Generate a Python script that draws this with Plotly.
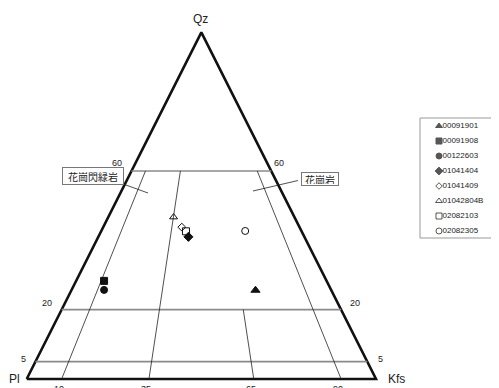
import plotly.graph_objects as go

# ---- data (percent) ----
samples = ["00091901", "00091908", "00122603", "01041404", "01041409", "01042804B", "02082103", "02082305"]
qz  = [25.6, 28.3, 25.7, 41.0, 43.8, 46.7, 42.6, 42.7]
pl  = [21.7, 63.7, 65.0, 33.2, 33.7, 34.6, 33.1, 16.1]
kfs = [52.7,  8.0,  9.3, 25.8, 22.5, 18.7, 24.3, 41.2]
symbols = ["triangle-up", "square", "circle", "diamond", "diamond-open",
           "triangle-up-open", "square-open", "circle-open"]

qz_levels = [60, 20, 5]                     # horizontal Qz lines
ratio_lines = [10, 35, 65, 90]              # Kfs/(Kfs+Pl) ratio lines
ratio_top = [60, 60, 20, 60]                # Qz where each ratio line stops
vertex_labels = ["Qz", "Pl", "Kfs"]
field_labels = ["花崗閃緑岩", "花崗岩"]

# page has an 8px body margin -> figure is 491x380, reference pixel coords minus 8
OFF = 8
W, H = 499 - OFF, 388 - OFF


def px(x):
    return (x - OFF) / W


def py(y):
    return 1 - (y - OFF) / H


def tern(q, k):
    """ternary (fractions of Qz, Kfs) -> cartesian"""
    return k + q / 2.0, q


fig = go.Figure()

# triangle outline
tx, ty = [], []
for q, k in [(0, 0), (0, 1), (1, 0), (0, 0)]:
    x, y = tern(q, k)
    tx.append(x); ty.append(y)
fig.add_trace(go.Scatter(x=tx, y=ty, mode="lines", line=dict(color="#111", width=2.6),
                         hoverinfo="skip", showlegend=False))

# horizontal Qz lines (gray)
for lv in qz_levels:
    q = lv / 100
    x0, y0 = tern(q, 0)
    x1, y1 = tern(q, 1 - q)
    fig.add_trace(go.Scatter(x=[x0, x1], y=[y0, y1], mode="lines",
                             line=dict(color="#8a8a8a", width=1.6),
                             hoverinfo="skip", showlegend=False))

# ratio lines
for r, top in zip(ratio_lines, ratio_top):
    rr = r / 100
    qt = top / 100
    x0, y0 = tern(0, rr)
    x1, y1 = tern(qt, (1 - qt) * rr)
    fig.add_trace(go.Scatter(x=[x0, x1], y=[y0, y1], mode="lines",
                             line=dict(color="#222", width=0.8),
                             hoverinfo="skip", showlegend=False))

# data points
sizes = [8, 7, 7, 7, 6, 7, 7, 7]
for name, q, p, k, s, sz in zip(samples, qz, pl, kfs, symbols, sizes):
    total = q + k + p
    x, y = tern(q / total, k / total)
    fig.add_trace(go.Scatter(x=[x], y=[y], mode="markers", name=name,
                             marker=dict(symbol=s, size=sz, color="#111",
                                         line=dict(color="#111", width=1)),
                             showlegend=False))

annotations = []
font_num = dict(family="Liberation Sans, Arial", size=9, color="#222")

# side tick labels (shift of label centre from line end, in px)
left_shift = {60: (-14.5, 8), 20: (-14.6, 6.7), 5: (-12.4, 2.7)}
right_shift = {60: (7.8, 8), 20: (13.9, 6.7), 5: (13.7, 2.7)}
for lv in qz_levels:
    q = lv / 100
    x0, y0 = tern(q, 0)
    x1, y1 = tern(q, 1 - q)
    dx, dy = left_shift[lv]
    annotations.append(dict(x=x0, y=y0, xref="x", yref="y", text=str(lv), showarrow=False,
                            xanchor="center", yanchor="middle", xshift=dx, yshift=dy, font=font_num))
    dx, dy = right_shift[lv]
    annotations.append(dict(x=x1, y=y1, xref="x", yref="y", text=str(lv), showarrow=False,
                            xanchor="center", yanchor="middle", xshift=dx, yshift=dy, font=font_num))

# bottom tick labels
for r in ratio_lines:
    x, y = tern(0, r / 100)
    annotations.append(dict(x=x, y=y, xref="x", yref="y", text=str(r), showarrow=False,
                            xanchor="center", yanchor="top", xshift=-3, yshift=-3, font=font_num))

# vertex labels
font_v = dict(family="Liberation Sans, Arial", size=12, color="#222")
xq, yq = tern(1, 0)
annotations.append(dict(x=xq, y=yq, xref="x", yref="y", text=vertex_labels[0], showarrow=False,
                        xanchor="center", yanchor="middle", xshift=-1, yshift=13, font=font_v))
xp, yp = tern(0, 0)
annotations.append(dict(x=xp, y=yp, xref="x", yref="y", text=vertex_labels[1], showarrow=False,
                        xanchor="center", yanchor="middle", xshift=-12.5, font=font_v))
xk, yk = tern(0, 1)
annotations.append(dict(x=xk, y=yk, xref="x", yref="y", text=vertex_labels[2], showarrow=False,
                        xanchor="center", yanchor="middle", xshift=20, font=font_v))

# field labels with boxes
font_jp = dict(family="Noto Sans CJK JP", size=10, color="#222")
annotations.append(dict(x=px(62.3), y=py(176), xref="paper", yref="paper", text=field_labels[0],
                        showarrow=False, font=font_jp, bordercolor="#777", borderwidth=1,
                        borderpad=2, bgcolor="white", width=56, height=12))
annotations.append(dict(x=px(320), y=py(178.5), xref="paper", yref="paper", text=field_labels[1],
                        showarrow=False, font=font_jp, bordercolor="#777", borderwidth=1,
                        borderpad=1, bgcolor="white", width=34, height=10))

shapes = [
    dict(type="line", xref="paper", yref="paper", x0=px(97), y0=py(174.5), x1=px(148), y1=py(193),
         line=dict(color="#222", width=0.8)),
    dict(type="line", xref="paper", yref="paper", x0=px(298), y0=py(180.5), x1=px(253), y1=py(191),
         line=dict(color="#222", width=0.8)),
    # legend box
    dict(type="rect", xref="paper", yref="paper", x0=px(420), y0=py(238), x1=px(498.5), y1=py(118),
         line=dict(color="#999", width=1)),
]

# manual legend on second axes
leg_idx = list(range(len(samples)))
leg_sizes = [6, 6, 6, 6, 5, 6, 6, 6]
fig.add_trace(go.Scatter(x=[19] * len(samples), y=leg_idx, mode="markers", xaxis="x2", yaxis="y2",
                         marker=dict(symbol=symbols, size=leg_sizes, color="#111",
                                     line=dict(color="#111", width=1)),
                         hoverinfo="skip", showlegend=False))
fig.add_trace(go.Scatter(x=[22.5] * len(samples), y=leg_idx, mode="text", xaxis="x2", yaxis="y2",
                         text=samples, textposition="middle right",
                         textfont=dict(family="Liberation Sans, Arial", size=8, color="#222"),
                         hoverinfo="skip", showlegend=False))

# axis ranges mapping triangle vertices to pixel positions (reference px)
xl, xr_ = 26.7 - OFF, 376.0 - OFF
yb, yt = 379.0 - OFF, 32.3 - OFF
sx = xr_ - xl
sy = yb - yt
x0r = -xl / sx
x1r = x0r + W / sx
y0r = -(H - yb) / sy
y1r = y0r + H / sy

fig.update_layout(
    width=W, height=H, margin=dict(l=0, r=0, t=0, b=0),
    paper_bgcolor="white", plot_bgcolor="rgba(0,0,0,0)",
    xaxis=dict(range=[x0r, x1r], visible=False, domain=[0, 1]),
    yaxis=dict(range=[y0r, y1r], visible=False, domain=[0, 1]),
    xaxis2=dict(range=[0, 79], visible=False, domain=[px(420), 1], anchor="y2"),
    yaxis2=dict(range=[7 + 7 / 15, -8 / 15], visible=False,
                domain=[py(238), py(118)], anchor="x2"),
    annotations=annotations, shapes=shapes, showlegend=False,
)

fig.write_html("out.html")
